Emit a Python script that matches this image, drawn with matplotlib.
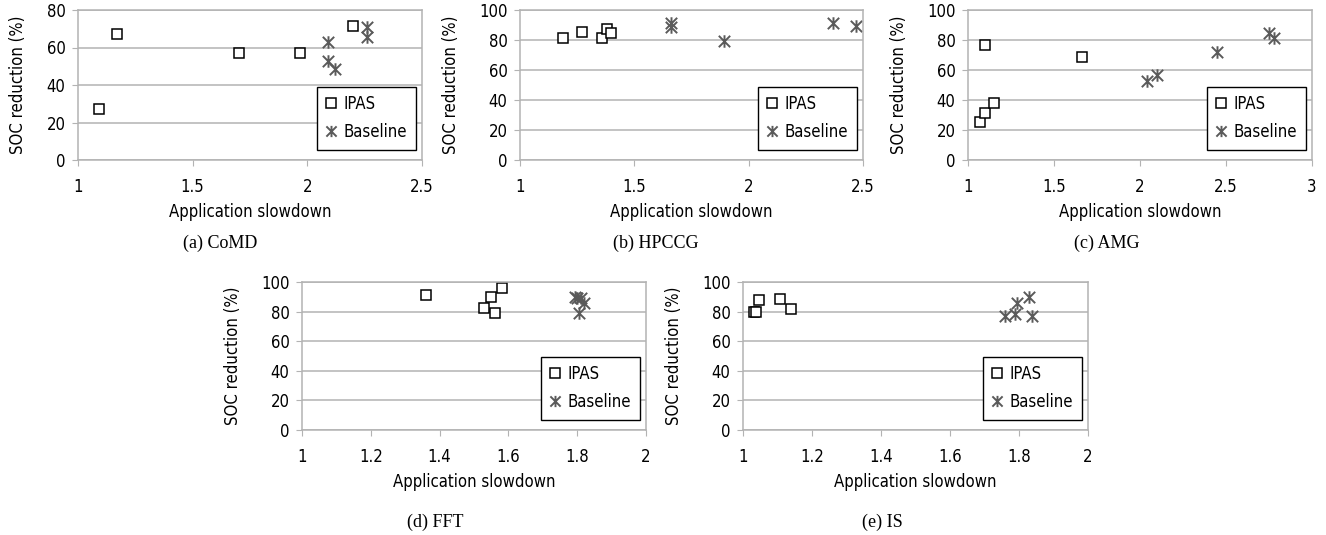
import matplotlib
matplotlib.use("Agg")
import matplotlib.pyplot as plt
from matplotlib.path import Path

# data (x = application slowdown, y = SOC reduction %)
comd_ipas_x = [1.09, 1.17, 1.70, 1.97, 2.20]
comd_ipas_y = [27.0, 67.2, 56.9, 57.2, 71.6]
comd_base_x = [2.09, 2.09, 2.12, 2.26, 2.26]
comd_base_y = [62.8, 52.8, 48.5, 71.1, 65.4]

hpccg_ipas_x = [1.19, 1.27, 1.36, 1.38, 1.40]
hpccg_ipas_y = [81.5, 85.5, 81.5, 87.3, 84.4]
hpccg_base_x = [1.66, 1.66, 1.89, 2.37, 2.47]
hpccg_base_y = [91.1, 88.8, 79.2, 91.1, 89.5]

amg_ipas_x = [1.10, 1.07, 1.10, 1.15, 1.66]
amg_ipas_y = [76.7, 25.6, 31.6, 38.2, 68.9]
amg_base_x = [2.04, 2.10, 2.45, 2.75, 2.78]
amg_base_y = [52.7, 56.7, 71.8, 84.4, 81.6]

fft_ipas_x = [1.36, 1.53, 1.55, 1.56, 1.58]
fft_ipas_y = [91.0, 82.5, 90.0, 79.0, 96.0]
fft_base_x = [1.795, 1.80, 1.81, 1.82, 1.805]
fft_base_y = [90.0, 89.0, 89.0, 86.0, 79.0]

is_ipas_x = [1.032, 1.039, 1.046, 1.108, 1.140]
is_ipas_y = [80.0, 80.0, 88.0, 88.5, 82.0]
is_base_x = [1.76, 1.789, 1.794, 1.828, 1.837]
is_base_y = [77.0, 78.5, 85.5, 90.0, 77.0]

captions = ["(a) CoMD", "(b) HPCCG", "(c) AMG", "(d) FFT", "(e) IS"]

W, H = 1326, 535
fig = plt.figure(figsize=(W / 100, H / 100), dpi=100)

narrow = ["DejaVu Sans"]
serif = ["Liberation Serif", "DejaVu Serif"]
fs = 12

# excel-like "star" marker: x with a vertical bar
star = Path([(-1, -1), (1, 1), (-1, 1), (1, -1), (0, -1.1), (0, 1.1)],
            [Path.MOVETO, Path.LINETO, Path.MOVETO, Path.LINETO, Path.MOVETO, Path.LINETO])

grid_col = "#b3b3b3"


def txt(lab):
    lab.set_family(narrow)
    lab.set_stretch("condensed")
    lab.set_fontsize(fs)


def panel(box, ipx, ipy, bx, by, xlim, xticks, ymax, caption, cap_xy):
    l, r, t, b = box
    ax = fig.add_axes([l / W, 1 - b / H, (r - l) / W, (b - t) / H])
    ax.set_xlim(*xlim)
    ax.set_ylim(0, ymax)
    ax.set_xticks(xticks)
    ax.set_xticklabels([("%g" % v) for v in xticks])
    ax.set_yticks(range(0, ymax + 1, 20))
    ax.yaxis.grid(True, color=grid_col, lw=1.1)
    ax.set_axisbelow(True)
    for s in ax.spines.values():
        s.set_color(grid_col)
        s.set_linewidth(1.1)
    ax.tick_params(axis="x", length=4, color=grid_col, pad=9)
    ax.tick_params(axis="y", length=4, color=grid_col, pad=5)
    for lab in ax.get_xticklabels() + ax.get_yticklabels():
        txt(lab)
    ax.plot(ipx, ipy, ls="none", marker="s", ms=7.5, mfc="white", mec="black",
            mew=1.1, label="IPAS", clip_on=False)
    ax.plot(bx, by, ls="none", marker=star, ms=9, mec="#5a5a5a", mfc="none",
            mew=1.4, label="Baseline", clip_on=False)
    txt(ax.set_xlabel("Application slowdown", labelpad=5))
    txt(ax.set_ylabel("SOC reduction (%)", labelpad=14))
    leg = ax.legend(loc="lower right", bbox_to_anchor=(0.982, 0.07), fancybox=False,
                    framealpha=1, edgecolor="black",
                    prop={"family": narrow, "size": fs, "stretch": "condensed"},
                    handlelength=0.6, handletextpad=0.5, labelspacing=0.6,
                    borderpad=0.5, borderaxespad=0, markerscale=0.9)
    leg.get_frame().set_linewidth(1.0)
    fig.text(cap_xy[0] / W, 1 - cap_xy[1] / H, caption, family=serif, fontsize=13,
             ha="center", va="center")
    return ax


panel((78, 422, 10, 160), comd_ipas_x, comd_ipas_y, comd_base_x, comd_base_y,
      (1, 2.5), [1, 1.5, 2, 2.5], 80, captions[0], (220, 243))
panel((520, 863, 10, 160), hpccg_ipas_x, hpccg_ipas_y, hpccg_base_x, hpccg_base_y,
      (1, 2.5), [1, 1.5, 2, 2.5], 100, captions[1], (656, 243))
panel((968, 1312, 10, 160), amg_ipas_x, amg_ipas_y, amg_base_x, amg_base_y,
      (1, 3), [1, 1.5, 2, 2.5, 3], 100, captions[2], (1107, 243))
panel((302, 646, 282, 430), fft_ipas_x, fft_ipas_y, fft_base_x, fft_base_y,
      (1, 2), [1, 1.2, 1.4, 1.6, 1.8, 2], 100, captions[3], (435, 522))
panel((743, 1088, 282, 430), is_ipas_x, is_ipas_y, is_base_x, is_base_y,
      (1, 2), [1, 1.2, 1.4, 1.6, 1.8, 2], 100, captions[4], (882, 522))

fig.savefig("out.png", dpi=100)
